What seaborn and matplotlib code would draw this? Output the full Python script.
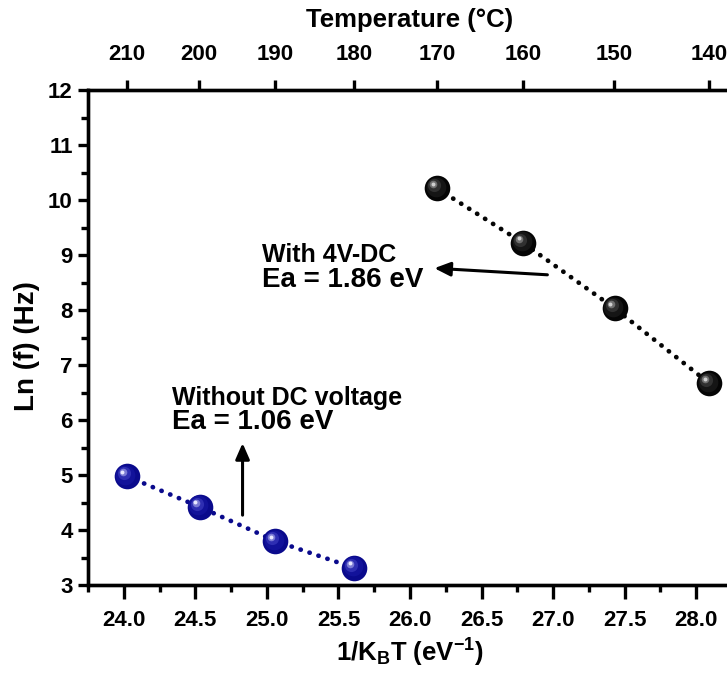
import numpy as np
import pandas as pd
import matplotlib
matplotlib.use("Agg")
import matplotlib.pyplot as plt
from matplotlib.ticker import MultipleLocator
from matplotlib.transforms import offset_copy
import seaborn as sns

# ---- data ----
dc_x = [26.19, 26.79, 27.43, 28.09]
dc_y = [10.21, 9.22, 8.03, 6.67]
nodc_x = [24.02, 24.53, 25.06, 25.61]
nodc_y = [4.98, 4.42, 3.80, 3.31]
temp_ticks = [210, 200, 190, 180, 170, 160, 150, 140]
KB = 8.617e-5

sns.set_theme(style="ticks")
plt.rcParams['font.family'] = ['Liberation Sans', 'DejaVu Sans']
plt.rcParams['font.weight'] = 'bold'
plt.rcParams['text.color'] = 'black'
plt.rcParams['axes.labelcolor'] = 'black'
plt.rcParams['xtick.color'] = 'black'
plt.rcParams['ytick.color'] = 'black'
plt.rcParams['mathtext.fontset'] = 'custom'
plt.rcParams['mathtext.rm'] = 'Liberation Sans:bold'
plt.rcParams['mathtext.it'] = 'Liberation Sans:bold'
plt.rcParams['mathtext.bf'] = 'Liberation Sans:bold'
plt.rcParams['mathtext.default'] = 'rm'

fig = plt.figure(figsize=(7.27, 6.73), dpi=100)
ax = fig.add_axes([88/727, 1-585/673, (732-88)/727, (585-90)/673])

df_dc = pd.DataFrame({"x": dc_x, "y": dc_y})
df_nodc = pd.DataFrame({"x": nodc_x, "y": nodc_y})

black = "#050505"
navy = "#0a0a8c"
for df, c in ((df_dc, black), (df_nodc, navy)):
    sns.lineplot(data=df, x="x", y="y", ax=ax, color=c, lw=3.4,
                 linestyle=(0, (0.05, 1.95)), zorder=2, sort=False)
for l in ax.lines:
    l.set_dash_capstyle('round')

def balls(df, base, layers):
    sns.scatterplot(data=df, x="x", y="y", ax=ax, color=base, s=340,
                    edgecolor=base, linewidth=0, zorder=3)
    for (col, s, dx, dy) in layers:
        tr = offset_copy(ax.transData, fig=fig, x=dx, y=dy, units='dots')
        ax.scatter(df["x"], df["y"], s=s, color=col, linewidth=0,
                   transform=tr, zorder=4)

balls(df_dc, black, [("#151515", 200, -1.5, 1.5), ("#303030", 90, -3, 3),
                     ("#707070", 30, -4, 4), ("#d0d0d0", 8, -4.5, 4.5)])
balls(df_nodc, navy, [("#12129a", 200, -1.5, 1.5), ("#2e2eb2", 90, -3, 3),
                      ("#7a7ad4", 30, -4, 4), ("#e8e8ff", 8, -4.5, 4.5)])

ax.set_xlim(23.75, 28.25)
ax.set_ylim(3, 12)
ax.xaxis.set_major_locator(MultipleLocator(0.5))
ax.xaxis.set_minor_locator(MultipleLocator(0.25))
ax.yaxis.set_major_locator(MultipleLocator(1))
ax.yaxis.set_minor_locator(MultipleLocator(0.5))
ax.xaxis.set_major_formatter(matplotlib.ticker.FormatStrFormatter('%.1f'))
ax.tick_params(axis='x', which='major', direction='out', length=10, width=2.4,
               labelsize=16, pad=8)
ax.tick_params(axis='y', which='major', direction='out', length=7, width=2.4,
               labelsize=16, pad=4)
ax.tick_params(which='minor', direction='out', length=5, width=2.4)
for lab in ax.get_xticklabels() + ax.get_yticklabels():
    lab.set_fontweight('bold')
for sp in ax.spines.values():
    sp.set_linewidth(2.4)
    sp.set_color('black')

ax.set_xlabel(r"1/K$_{B}$T (eV$^{-1}$)", fontsize=18.5, fontweight='bold', labelpad=4)
ax.set_ylabel("Ln (f) (Hz)", fontsize=20, fontweight='bold')
ax.yaxis.set_label_coords(-0.075, 0.483)

# top axis: temperature
ax2 = ax.twiny()
ax2.set_xlim(ax.get_xlim())
ax2.set_xticks([1.0/(KB*(t+273.15)) for t in temp_ticks])
ax2.set_xticklabels([str(t) for t in temp_ticks], fontweight='bold')
ax2.tick_params(which='major', direction='out', length=7, width=2.4,
                labelsize=16, pad=11)
ax2.xaxis.set_minor_locator(matplotlib.ticker.NullLocator())
for sp in ax2.spines.values():
    sp.set_linewidth(2.4)
    sp.set_color('black')
ax2.set_xlabel("Temperature (°C)", fontsize=18.5, fontweight='bold', labelpad=12)

# annotations
ax.text(24.965, 8.87, "With 4V-DC", fontsize=18, fontweight='bold', va='baseline')
ax.text(24.965, 8.42, "Ea = 1.86 eV", fontsize=20, fontweight='bold', va='baseline')
ax.annotate("", xy=(26.17, 8.76), xytext=(26.96, 8.64),
            arrowprops=dict(arrowstyle='-|>,head_length=0.8,head_width=0.35',
                            color='black', lw=2.2, shrinkA=0, shrinkB=0))
ax.text(24.34, 6.27, "Without DC voltage", fontsize=18, fontweight='bold', va='baseline')
ax.text(24.34, 5.84, "Ea = 1.06 eV", fontsize=20, fontweight='bold', va='baseline')
ax.annotate("", xy=(24.83, 5.58), xytext=(24.83, 4.27),
            arrowprops=dict(arrowstyle='-|>,head_length=0.8,head_width=0.35',
                            color='black', lw=2.2, shrinkA=0, shrinkB=0))

fig.savefig("out.png", dpi=100)
